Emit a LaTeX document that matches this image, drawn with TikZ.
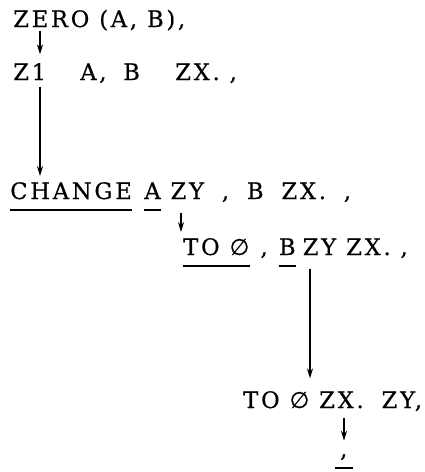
\documentclass[tikz,border=0pt]{standalone}
\usepackage{fontspec}
\setmainfont[LetterSpace=12, FakeBold=0.5]{DejaVu Serif}
\newfontfamily\widefont[LetterSpace=12, FakeBold=0.5, WordSpace=1.8]{DejaVu Serif}
\newfontfamily\symfont[FakeBold=0.5]{DejaVu Sans}
\newcommand{\nul}{{\symfont ∅}}
\usetikzlibrary{arrows.meta, positioning}

\begin{document}
\begin{tikzpicture}[x=0.75pt, y=-0.75pt, every node/.style={font=\fontsize{17}{20}\selectfont},
    txt/.style={inner sep=0pt, text height=12pt, text depth=3pt, anchor=base west},
    wide/.style={font=\widefont\fontsize{17}{20}\selectfont},
    arr/.style={-{Stealth[length=7.5pt, width=4.5pt]}, line width=1.3pt},
    uline/.style={line width=1.3pt}]
    \useasboundingbox (0,0) rectangle (425,472);
    % the lines of text
    \node[txt] (zero) at (13,27) {ZERO (A, B),};
    \node[txt] (zone) at (13,80) {Z1};
    \node[txt] (aa) at (80,80) {A,};
    \node[txt] (bb) at (123,80) {B};
    \node[txt] (zxa) at (175,80) {ZX. ,};
    \node[txt] (change) at (10,199) {CHANGE};
    \node[txt, base right=9pt of change] (ca) {A};
    \node[txt, wide, base right=7pt of ca] (cb) {ZY , B ZX. ,};
    \node[txt] (to) at (183,255) {TO \nul};
    \node[txt, base right=8pt of to] (tc) {,};
    \node[txt, base right=8pt of tc] (tb) {B};
    \node[txt, base right=5pt of tb] (tzy) {ZY ZX. ,};
    \node[txt] (lto) at (243,408) {TO \nul};
    \node[txt, wide, base right=7pt of lto] (lzx) {ZX. ZY,};
    \node[txt, minimum width=12.75pt] (comma) at (335,457) {,};
    % underlines
    \foreach \n in {change, ca, to, tb, comma}
        \draw[uline] ([yshift=-5pt]\n.south west) -- ([yshift=-5pt]\n.south east);
    % arrows
    \coordinate (c1) at (40,0);
    \coordinate (c2) at (181,0);
    \coordinate (c3) at (310,0);
    \coordinate (c4) at (344,0);
    \draw[arr] (zero.south -| c1) -- ([yshift=7pt]zone.north -| c1);
    \draw[arr, shorten <=2pt, shorten >=5pt] (zone.south -| c1) -- (change.north -| c1);
    \draw[arr, shorten <=7pt, shorten >=5pt] (cb.south -| c2) -- (to.north -| c2);
    \draw[arr, shorten <=7pt, shorten >=10pt] (tzy.south -| c3) -- (lto.north -| c3);
    \draw[arr, shorten <=4pt] (lzx.south -| c4) -- (comma.north -| c4);
\end{tikzpicture}
\end{document}
